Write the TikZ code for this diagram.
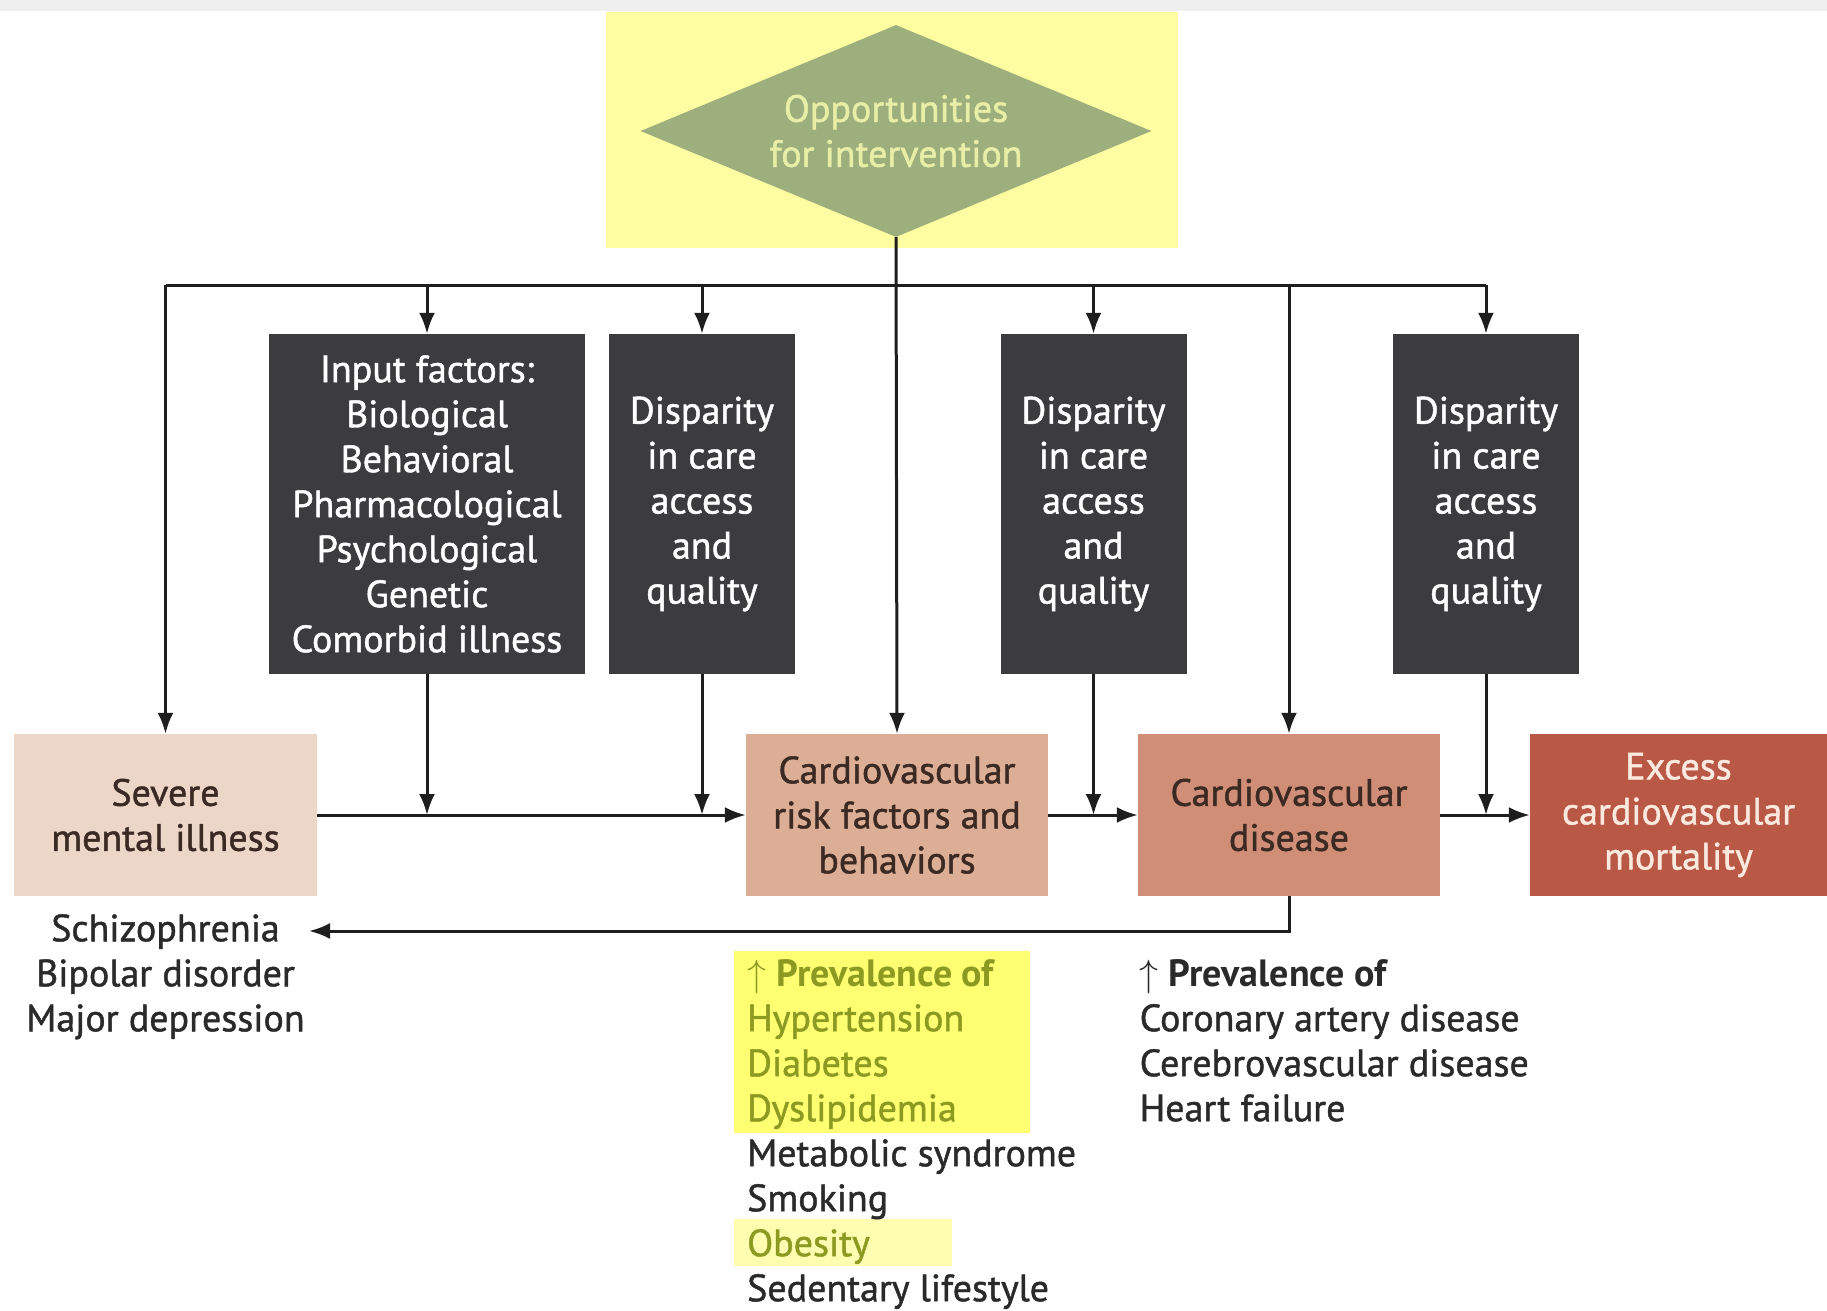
\RequirePackage{fix-cm}
\documentclass[tikz,border=0pt]{standalone}
\usepackage{fontspec}
\setmainfont{PT Sans}[UprightFeatures={FakeBold=1.2}]
\usetikzlibrary{arrows.meta,shapes.geometric}

\definecolor{boxgray}{HTML}{3C3C3E}
\definecolor{smifill}{HTML}{ECD6C8}
\definecolor{riskfill}{HTML}{DCAE95}
\definecolor{cvdfill}{HTML}{D08E76}
\definecolor{excessfill}{HTML}{B95845}
\definecolor{excesstext}{HTML}{FBE9DF}
\definecolor{browntext}{HTML}{3B2A24}
\definecolor{oppfill}{HTML}{9DAF7D}
\definecolor{opptext}{HTML}{E8EEA6}
\definecolor{topyellow}{HTML}{FEFDA2}
\definecolor{hlyellow}{HTML}{FFFF72}
\definecolor{hllight}{HTML}{FEFDB0}
\definecolor{olivetext}{HTML}{8C9A22}
\definecolor{linegray}{HTML}{1E1E1E}
\definecolor{listtext}{HTML}{2A2A2A}
\definecolor{topbar}{HTML}{EFEFEF}

\begin{document}
\begin{tikzpicture}[x=1pt,y=-1pt,
  every node/.style={font=\fontsize{38}{45}\selectfont},
  darkbox/.style={fill=boxgray,text=white,align=center,inner sep=0pt,
    minimum height=340pt},
  flowbox/.style={align=center,inner sep=0pt,minimum height=162pt,
    minimum width=302pt,text=browntext},
  listnode/.style={align=left,inner sep=0pt,text=listtext},
  link/.style={line width=3pt,draw=linegray},
  arr/.style={link,-{Latex[length=21pt,width=16pt]}}]
\useasboundingbox (0,0) rectangle (1827,1310);
\fill[topbar] (0,0) rectangle (1827,11);

% opportunities
\fill[topyellow] (606,12) rectangle (1178,248);
\node[diamond,fill=oppfill,text=opptext,align=center,inner sep=0pt,aspect=2.41,
  minimum width=511pt,minimum height=212pt] (opp) at (896,131)
  {Opportunities\\for intervention};

% upper row
\node[darkbox,minimum width=316pt] (inputs) at (427,504)
  {Input factors:\\Biological\\Behavioral\\Pharmacological\\Psychological\\Genetic\\Comorbid illness};
\node[darkbox,minimum width=186pt] (disp1) at (702,504)
  {Disparity\\in care\\access\\and\\quality};
\node[darkbox,minimum width=186pt] (disp2) at (1093.5,504)
  {Disparity\\in care\\access\\and\\quality};
\node[darkbox,minimum width=186pt] (disp3) at (1486,504)
  {Disparity\\in care\\access\\and\\quality};

% lower row
\node[flowbox,fill=smifill,minimum width=303pt] (smi) at (165.5,815)
  {Severe\\mental illness};
\node[flowbox,fill=riskfill] (risk) at (897,815)
  {Cardiovascular\\risk factors and\\behaviors};
\node[flowbox,fill=cvdfill] (cvd) at (1289,815)
  {Cardiovascular\\disease};
\node[flowbox,fill=excessfill,text=excesstext,minimum width=297pt] (excess) at (1678.5,815)
  {Excess\\cardiovascular\\mortality};

% lists
\fill[hlyellow] (734,951) rectangle (1030,1133);
\fill[hllight] (734,1219) rectangle (952,1266);
\node[listnode,align=center,anchor=north] (smilist) at (165.5,914)
  {Schizophrenia\\Bipolar disorder\\Major depression};
\node[listnode,anchor=north west] (risklist) at (747,959)
  {\textcolor{olivetext}{$\uparrow$ \bfseries Prevalence of}\\
   \textcolor{olivetext}{Hypertension}\\
   \textcolor{olivetext}{Diabetes}\\
   \textcolor{olivetext}{Dyslipidemia}\\
   Metabolic syndrome\\Smoking\\
   \textcolor{olivetext}{Obesity}\\
   Sedentary lifestyle};
\node[listnode,anchor=north west] (cvdlist) at (1139.5,959)
  {$\uparrow$ \textbf{Prevalence of}\\Coronary artery disease\\Cerebrovascular disease\\Heart failure};

% connectors
\coordinate (busL) at (165.5,285);
\coordinate (busR) at (1486,285);
\coordinate (fb) at (309,931);
\draw[link] (busL) -- (busR);
\draw[arr] (busL) -- (smi.north);
\draw[arr] (inputs.north |- busL) -- (inputs.north);
\draw[arr] (disp1.north |- busL) -- (disp1.north);
\draw[arr] (opp.south) -- (risk.north);
\draw[arr] (disp2.north |- busL) -- (disp2.north);
\draw[arr] (cvd.north |- busL) -- (cvd.north);
\draw[arr] (busR) -- (disp3.north);

\draw[arr] (smi.east) -- (risk.west);
\draw[arr] (risk.east) -- (cvd.west);
\draw[arr] (cvd.east) -- (excess.west);
\draw[arr] (inputs.south) -- (inputs.south |- smi.east);
\draw[arr] (disp1.south) -- (disp1.south |- smi.east);
\draw[arr] (disp2.south) -- (disp2.south |- smi.east);
\draw[arr] (disp3.south) -- (disp3.south |- smi.east);
\draw[arr] (cvd.south) |- (fb);
\end{tikzpicture}
\end{document}
